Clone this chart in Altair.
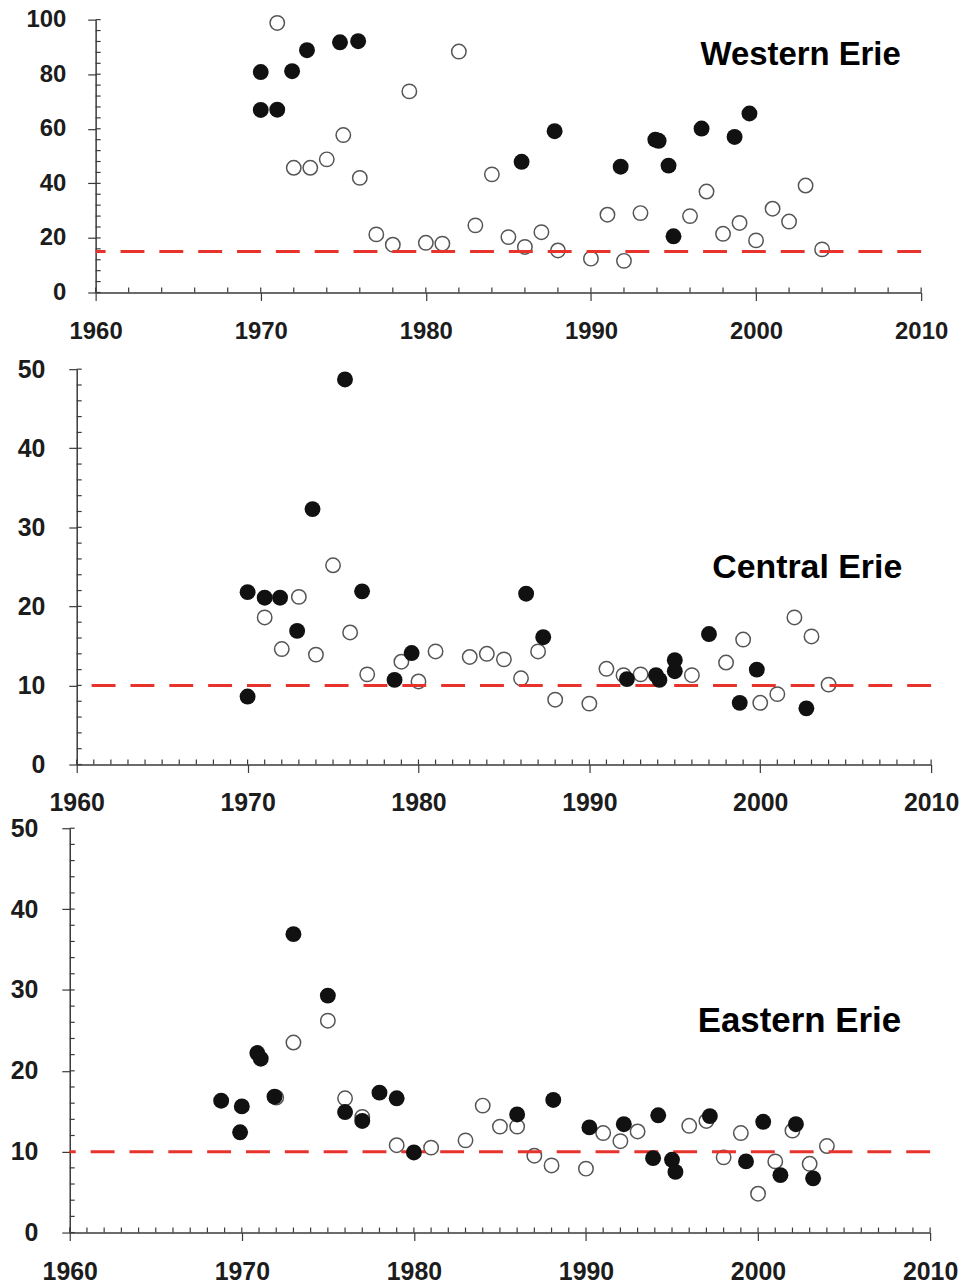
import altair as alt
import pandas as pd

# ---------------- data ----------------
# Western Erie
w_open_year = [1971, 1972, 1973, 1974, 1975, 1976, 1977, 1978, 1979, 1980, 1981, 1982, 1983, 1984,
               1985, 1986, 1987, 1988, 1990, 1991, 1992, 1993, 1996, 1997, 1998, 1999, 2000, 2001,
               2002, 2003, 2004]
w_open_val = [98.8, 45.7, 45.7, 48.8, 57.7, 42.0, 21.3, 17.5, 73.7, 18.2, 17.9, 88.3, 24.6, 43.3,
              20.3, 16.7, 22.1, 15.4, 12.4, 28.5, 11.6, 29.1, 28.0, 37.0, 21.5, 25.5, 19.1, 30.7,
              26.0, 39.2, 15.8]
w_fill_year = [1970.0, 1970.0, 1971.0, 1971.9, 1972.8, 1974.8, 1975.9, 1985.8, 1987.8, 1991.8,
               1993.9, 1994.1, 1994.7, 1995.0, 1996.7, 1998.7, 1999.6]
w_fill_val = [80.8, 66.9, 67.0, 81.1, 88.8, 91.7, 92.1, 47.9, 59.1, 46.1,
              56.0, 55.6, 46.5, 20.6, 60.1, 57.0, 65.6]

# Central Erie
c_open_year = [1971, 1972, 1973, 1974, 1975, 1976, 1977, 1979, 1980, 1981, 1983, 1984, 1985, 1986,
               1987, 1988, 1990, 1991, 1992, 1993, 1996, 1998, 1999, 2000, 2001, 2002, 2003, 2004]
c_open_val = [18.6, 14.6, 21.2, 13.9, 25.2, 16.7, 11.4, 13.0, 10.5, 14.3, 13.6, 14.0, 13.3, 10.9,
              14.3, 8.2, 7.7, 12.1, 11.3, 11.4, 11.3, 12.9, 15.8, 7.8, 8.9, 18.6, 16.2, 10.1]
c_fill_year = [1970.0, 1970.0, 1971.0, 1971.9, 1972.9, 1973.8, 1975.7, 1976.7, 1978.6, 1979.6,
               1986.3, 1987.3, 1992.2, 1993.9, 1994.1, 1995.0, 1995.0, 1997.0, 1998.8, 1999.8,
               2002.7]
c_fill_val = [21.8, 8.6, 21.1, 21.1, 16.9, 32.3, 48.7, 21.9, 10.7, 14.1,
              21.6, 16.1, 10.8, 11.3, 10.7, 13.2, 11.8, 16.5, 7.8, 12.0,
              7.1]

# Eastern Erie
e_open_year = [1972, 1973, 1975, 1976, 1977, 1979, 1981, 1983, 1984, 1985, 1986, 1987, 1988, 1990,
               1991, 1992, 1993, 1996, 1997, 1998, 1999, 2000, 2001, 2002, 2003, 2004]
e_open_val = [16.7, 23.5, 26.2, 16.6, 14.3, 10.8, 10.5, 11.4, 15.7, 13.1, 13.1, 9.5, 8.3, 7.9,
              12.3, 11.3, 12.5, 13.2, 13.8, 9.3, 12.3, 4.8, 8.8, 12.6, 8.5, 10.7]
e_fill_year = [1968.8, 1969.9, 1970.0, 1970.9, 1971.1, 1971.9, 1973.0, 1975.0, 1976.0, 1977.0,
               1978.0, 1979.0, 1980.0, 1986.0, 1988.1, 1990.2, 1992.2, 1993.9, 1994.2, 1995.0,
               1995.2, 1997.2, 1999.3, 2000.3, 2001.3, 2002.2, 2003.2]
e_fill_val = [16.3, 12.4, 15.6, 22.2, 21.5, 16.8, 36.9, 29.3, 14.9, 13.8,
              17.3, 16.6, 9.9, 14.6, 16.4, 13.0, 13.4, 9.2, 14.5, 9.0,
              7.5, 14.4, 8.8, 13.7, 7.1, 13.4, 6.7]

titles = ["Western Erie", "Central Erie", "Eastern Erie"]
thresholds = [15, 10, 10]
y_max = [100, 50, 50]
y_major = [[0, 20, 40, 60, 80, 100], [0, 10, 20, 30, 40, 50], [0, 10, 20, 30, 40, 50]]
x_major = [1960, 1970, 1980, 1990, 2000, 2010]
x_minor_1 = list(range(1960, 2011, 2))
x_minor_23 = list(range(1960, 2011, 1))
y_minor_1 = list(range(0, 101, 4))
y_minor_23 = list(range(0, 51, 2))
title_pos = [(2002.7, 86.9), (2002.75, 24.9), (2002.4, 26.1)]

FONT = "Liberation Sans"
AX = "#3a3a3a"
LBL = "#1c1c1c"
RED = "#e8322c"


def panel(open_y, open_v, fill_y, fill_v, ymax, ymaj, xmin, ymin, thr, title, tpos,
          W, H, lsize, tsize, lpad_y, lpad_x):
    xs = alt.Scale(domain=[1960, 2010], nice=False, zero=False)
    ys = alt.Scale(domain=[0, ymax], nice=False)
    xaxis = alt.Axis(values=x_major, format="d", title=None, grid=False,
                     labelFont=FONT, labelFontSize=lsize, labelFontWeight="bold",
                     labelColor=LBL, labelPadding=lpad_x, tickSize=8, tickColor=AX,
                     tickWidth=1.2, domainColor=AX, domainWidth=1.5, labelFlush=False)
    yaxis = alt.Axis(values=ymaj, title=None, grid=False,
                     labelFont=FONT, labelFontSize=lsize, labelFontWeight="bold",
                     labelColor=LBL, labelPadding=lpad_y, tickSize=8, tickColor=AX,
                     tickWidth=1.2, domainColor=AX, domainWidth=1.5, labelFlush=False)

    def X(f):
        return alt.X(f, scale=xs, axis=xaxis)

    def Y(f):
        return alt.Y(f, scale=ys, axis=yaxis)

    df_open = pd.DataFrame({"year": open_y, "val": open_v})
    df_fill = pd.DataFrame({"year": fill_y, "val": fill_v})

    opened = alt.Chart(df_open).mark_point(
        shape="circle", size=210, filled=False, stroke="#555555", strokeWidth=1.5, opacity=1
    ).encode(x=X("year:Q"), y=Y("val:Q"))
    filled = alt.Chart(df_fill).mark_circle(size=255, color="#111111", opacity=1).encode(
        x=X("year:Q"), y=Y("val:Q"))
    ytick = alt.Chart(pd.DataFrame({"t": ymin})).mark_rule(color=AX, strokeWidth=1.2).encode(
        y=Y("t:Q"), x=alt.value(0), x2=alt.value(5)
    )
    xtick = alt.Chart(pd.DataFrame({"t": xmin})).mark_rule(color=AX, strokeWidth=1.2).encode(
        x=X("t:Q"), y=alt.value(H), y2=alt.value(H - 5)
    )
    thr_line = alt.Chart(pd.DataFrame({"v": [thr]})).mark_rule(
        color=RED, strokeWidth=3, strokeDash=[24, 15]
    ).encode(y=Y("v:Q"))
    label = alt.Chart(pd.DataFrame({"x": [tpos[0]], "y": [tpos[1]], "t": [title]})).mark_text(
        font=FONT, fontSize=tsize, fontWeight="bold", color="#000000",
        align="center", baseline="middle"
    ).encode(x=X("x:Q"), y=Y("y:Q"), text="t:N")
    return alt.layer(opened, ytick, xtick, thr_line, filled, label).properties(width=W, height=H)


def spacer(w):
    return alt.Chart(pd.DataFrame({"s": [0]})).mark_point(opacity=0).properties(width=w, height=10)


p1 = panel(w_open_year, w_open_val, w_fill_year, w_fill_val, y_max[0], y_major[0],
           x_minor_1, y_minor_1, thresholds[0], titles[0], title_pos[0],
           829, 274, 24, 33, 22, 19)
p2 = panel(c_open_year, c_open_val, c_fill_year, c_fill_val, y_max[1], y_major[1],
           x_minor_23, y_minor_23, thresholds[1], titles[1], title_pos[1],
           858, 397, 25, 34, 24, 18)
p3 = panel(e_open_year, e_open_val, e_fill_year, e_fill_val, y_max[2], y_major[2],
           x_minor_23, y_minor_23, thresholds[2], titles[2], title_pos[2],
           864, 406, 25, 35, 24, 19)

row1 = alt.hconcat(spacer(1), p1, spacing=16)
row2 = alt.hconcat(spacer(1), p2, spacing=8)
row3 = alt.hconcat(spacer(1), p3, spacing=1)

chart = alt.vconcat(
    row1,
    alt.vconcat(row2, row3, spacing=1),
    spacing=14,
).properties(
    padding={"left": -6, "top": -3, "right": 0, "bottom": 0}
).configure_view(strokeWidth=0)

chart.save("out.html", embed_options={"renderer": "svg", "actions": False})
